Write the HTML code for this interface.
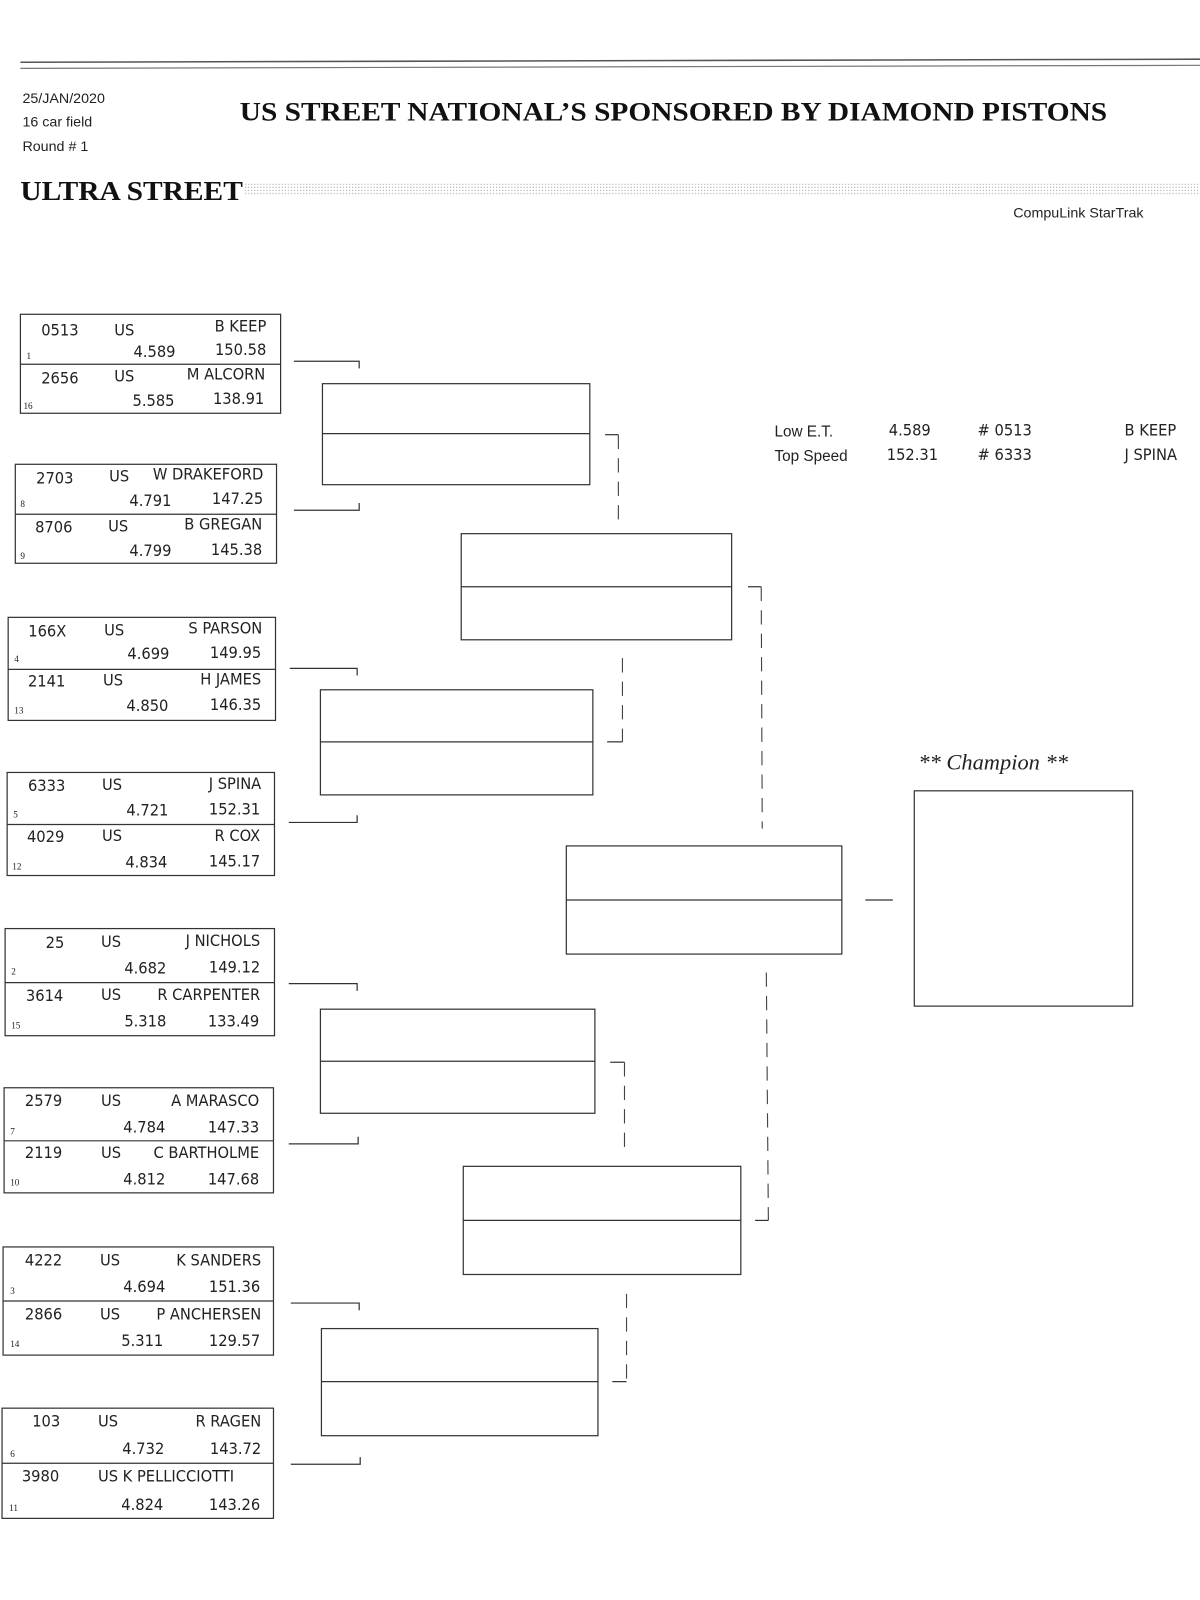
<!DOCTYPE html>
<html><head><meta charset="utf-8"><style>
html,body{margin:0;padding:0;background:#fff;}
svg{display:block;}
.n{font-family:"Liberation Sans Narrow","DejaVu Sans Condensed","Liberation Sans",sans-serif;font-size:16px;fill:#222;}
.s{font-family:"Liberation Serif",serif;font-size:9px;fill:#222;}
.b{fill:none;stroke:#333;stroke-width:1.2;}
.d{fill:none;stroke:#444;stroke-width:1.1;stroke-dasharray:14 9;}
</style></head><body>
<svg width="1200" height="1600" viewBox="0 0 1176 1568" xmlns="http://www.w3.org/2000/svg">
<defs><pattern id="dots" width="3" height="3" patternUnits="userSpaceOnUse"><rect width="1.2" height="1.2" fill="#999"/></pattern></defs>
<line x1="20" y1="61" x2="1176" y2="58" stroke="#555" stroke-width="1.5"/>
<line x1="20" y1="67" x2="1176" y2="64" stroke="#777" stroke-width="1.2"/>
<g font-family="Liberation Sans, sans-serif" font-size="14" fill="#222">
<text x="22" y="101">25/JAN/2020</text><text x="22" y="124">16 car field</text><text x="22" y="148">Round # 1</text>
<text x="993" y="213">CompuLink StarTrak</text>
</g>
<text x="235" y="118" font-family="Liberation Serif,serif" font-weight="bold" font-size="26" textLength="850" lengthAdjust="spacingAndGlyphs" fill="#111">US STREET NATIONAL’S SPONSORED BY DIAMOND PISTONS</text>
<text x="20" y="196" font-family="Liberation Serif,serif" font-weight="bold" font-size="27" textLength="218" lengthAdjust="spacingAndGlyphs" fill="#111">ULTRA STREET</text>
<rect x="240" y="180" width="936" height="12" fill="url(#dots)" opacity="0.7"/>

<g class="n">
<text x="759" y="428" font-family="Liberation Sans,sans-serif" font-size="15">Low  E.T.</text>
<text x="759" y="452" font-family="Liberation Sans,sans-serif" font-size="15">Top Speed</text>
<text x="871" y="427">4.589</text><text x="958" y="427"># 0513</text><text x="1102" y="427">B KEEP</text>
<text x="869" y="451">152.31</text><text x="958" y="451"># 6333</text><text x="1102" y="451">J SPINA</text>
</g>
<text x="900" y="754" font-family="Liberation Serif,serif" font-style="italic" font-size="22" fill="#222">** Champion **</text>
<rect class="b" x="896" y="775" width="214" height="211"/>

<g class="b">
<rect x="20" y="308" width="255" height="97"/><line x1="20" y1="357" x2="275" y2="357"/>
<rect x="15" y="455" width="256" height="97"/><line x1="15" y1="504" x2="271" y2="504"/>
<rect x="8" y="605" width="262" height="101"/><line x1="8" y1="656" x2="270" y2="656"/>
<rect x="7" y="757" width="262" height="101"/><line x1="7" y1="808" x2="269" y2="808"/>
<rect x="5" y="910" width="264" height="105"/><line x1="5" y1="963" x2="269" y2="963"/>
<rect x="4" y="1066" width="264" height="103"/><line x1="4" y1="1118" x2="268" y2="1118"/>
<rect x="3" y="1222" width="265" height="106"/><line x1="3" y1="1275" x2="268" y2="1275"/>
<rect x="2" y="1380" width="266" height="108"/><line x1="2" y1="1434" x2="268" y2="1434"/>
</g>
<g class="n">
<text x="77" y="329" text-anchor="end">0513</text><text x="112" y="329">US</text><text x="261" y="325" text-anchor="end">B KEEP</text>
<text x="172" y="350" text-anchor="end">4.589</text><text x="261" y="348" text-anchor="end">150.58</text>
<text x="77" y="376" text-anchor="end">2656</text><text x="112" y="374">US</text><text x="260" y="372" text-anchor="end">M ALCORN</text>
<text x="171" y="398" text-anchor="end">5.585</text><text x="259" y="396" text-anchor="end">138.91</text>
<text x="72" y="474" text-anchor="end">2703</text><text x="107" y="472">US</text><text x="258" y="470" text-anchor="end">W DRAKEFORD</text>
<text x="168" y="496" text-anchor="end">4.791</text><text x="258" y="494" text-anchor="end">147.25</text>
<text x="71" y="522" text-anchor="end">8706</text><text x="106" y="521">US</text><text x="257" y="519" text-anchor="end">B GREGAN</text>
<text x="168" y="545" text-anchor="end">4.799</text><text x="257" y="544" text-anchor="end">145.38</text>
<text x="65" y="624" text-anchor="end">166X</text><text x="102" y="623">US</text><text x="257" y="621" text-anchor="end">S PARSON</text>
<text x="166" y="646" text-anchor="end">4.699</text><text x="256" y="645" text-anchor="end">149.95</text>
<text x="64" y="673" text-anchor="end">2141</text><text x="101" y="672">US</text><text x="256" y="671" text-anchor="end">H JAMES</text>
<text x="165" y="697" text-anchor="end">4.850</text><text x="256" y="696" text-anchor="end">146.35</text>
<text x="64" y="775" text-anchor="end">6333</text><text x="100" y="774">US</text><text x="256" y="773" text-anchor="end">J SPINA</text>
<text x="165" y="799" text-anchor="end">4.721</text><text x="255" y="798" text-anchor="end">152.31</text>
<text x="63" y="825" text-anchor="end">4029</text><text x="100" y="824">US</text><text x="255" y="824" text-anchor="end">R COX</text>
<text x="164" y="850" text-anchor="end">4.834</text><text x="255" y="849" text-anchor="end">145.17</text>
<text x="63" y="929" text-anchor="end">25</text><text x="99" y="928">US</text><text x="255" y="927" text-anchor="end">J NICHOLS</text>
<text x="163" y="954" text-anchor="end">4.682</text><text x="255" y="953" text-anchor="end">149.12</text>
<text x="62" y="981" text-anchor="end">3614</text><text x="99" y="980">US</text><text x="255" y="980" text-anchor="end">R CARPENTER</text>
<text x="163" y="1006" text-anchor="end">5.318</text><text x="254" y="1006" text-anchor="end">133.49</text>
<text x="61" y="1084" text-anchor="end">2579</text><text x="99" y="1084">US</text><text x="254" y="1084" text-anchor="end">A MARASCO</text>
<text x="162" y="1110" text-anchor="end">4.784</text><text x="254" y="1110" text-anchor="end">147.33</text>
<text x="61" y="1135" text-anchor="end">2119</text><text x="99" y="1135">US</text><text x="254" y="1135" text-anchor="end">C BARTHOLME</text>
<text x="162" y="1161" text-anchor="end">4.812</text><text x="254" y="1161" text-anchor="end">147.68</text>
<text x="61" y="1240" text-anchor="end">4222</text><text x="98" y="1240">US</text><text x="256" y="1240" text-anchor="end">K SANDERS</text>
<text x="162" y="1266" text-anchor="end">4.694</text><text x="255" y="1266" text-anchor="end">151.36</text>
<text x="61" y="1293" text-anchor="end">2866</text><text x="98" y="1293">US</text><text x="256" y="1293" text-anchor="end">P ANCHERSEN</text>
<text x="160" y="1319" text-anchor="end">5.311</text><text x="255" y="1319" text-anchor="end">129.57</text>
<text x="59" y="1398" text-anchor="end">103</text><text x="96" y="1398">US</text><text x="256" y="1398" text-anchor="end">R RAGEN</text>
<text x="161" y="1425" text-anchor="end">4.732</text><text x="256" y="1425" text-anchor="end">143.72</text>
<text x="58" y="1452" text-anchor="end">3980</text><text x="96" y="1452">US K PELLICCIOTTI</text>
<text x="160" y="1480" text-anchor="end">4.824</text><text x="255" y="1480" text-anchor="end">143.26</text>
</g>
<g class="s">
<text x="26" y="352">1</text><text x="23" y="401">16</text>
<text x="20" y="497">8</text><text x="20" y="548">9</text>
<text x="14" y="649">4</text><text x="14" y="699">13</text>
<text x="13" y="801">5</text><text x="12" y="852">12</text>
<text x="11" y="955">2</text><text x="11" y="1008">15</text>
<text x="10" y="1112">7</text><text x="10" y="1162">10</text>
<text x="10" y="1268">3</text><text x="10" y="1320">14</text>
<text x="10" y="1428">6</text><text x="9" y="1481">11</text>
</g>

<g class="b">
<polyline points="288,354 352,354 352,361"/>
<polyline points="288,500 352,500 352,493"/>
<polyline points="284,655 350,655 350,662"/>
<polyline points="283,806 350,806 350,799"/>
<polyline points="283,964 350,964 350,971"/>
<polyline points="283,1121 351,1121 351,1114"/>
<polyline points="285,1277 352,1277 352,1284"/>
<polyline points="285,1435 353,1435 353,1428"/>
</g>
<g class="b">
<rect x="316" y="376" width="262" height="99"/><line x1="316" y1="425" x2="578" y2="425"/>
<rect x="314" y="676" width="267" height="103"/><line x1="314" y1="727" x2="581" y2="727"/>
<rect x="314" y="989" width="269" height="102"/><line x1="314" y1="1040" x2="583" y2="1040"/>
<rect x="315" y="1302" width="271" height="105"/><line x1="315" y1="1354" x2="586" y2="1354"/>
<rect x="452" y="523" width="265" height="104"/><line x1="452" y1="575" x2="717" y2="575"/>
<rect x="454" y="1143" width="272" height="106"/><line x1="454" y1="1196" x2="726" y2="1196"/>
<rect x="555" y="829" width="270" height="106"/><line x1="555" y1="882" x2="825" y2="882"/>
<line x1="848" y1="882" x2="875" y2="882"/>
<line x1="593" y1="426" x2="606" y2="426"/>
<line x1="595" y1="727" x2="610" y2="727"/>
<line x1="598" y1="1041" x2="612" y2="1041"/>
<line x1="600" y1="1354" x2="614" y2="1354"/>
<line x1="733" y1="575" x2="746" y2="575"/>
<line x1="740" y1="1196" x2="753" y2="1196"/>
</g>
<g class="d">
<line x1="606" y1="426" x2="606" y2="510"/>
<line x1="610" y1="645" x2="610" y2="727"/>
<line x1="612" y1="1041" x2="612" y2="1125"/>
<line x1="614" y1="1268" x2="614" y2="1354"/>
<line x1="746" y1="575" x2="747" y2="812"/>
<line x1="751" y1="953" x2="753" y2="1196"/>
</g>
</svg>
</body></html>
